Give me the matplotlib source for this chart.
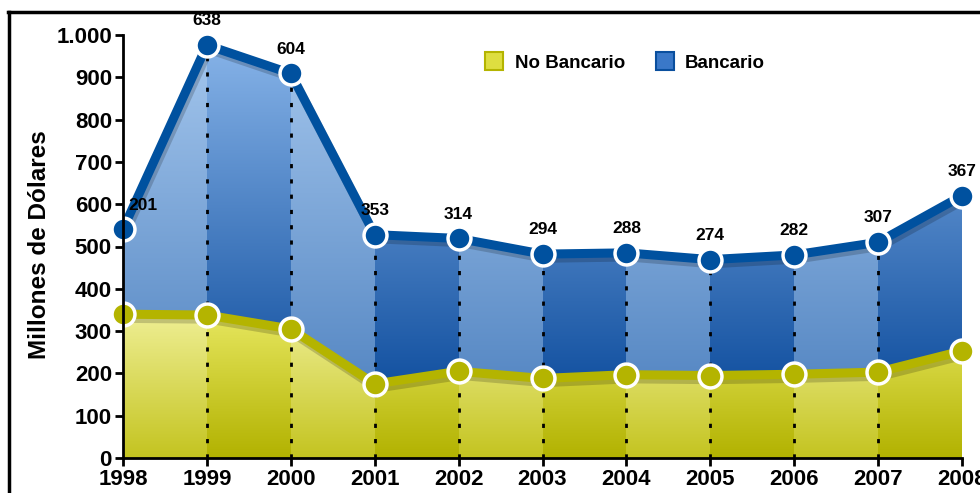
"""Stacked area chart: Millones de Dólares, Bancario vs No Bancario (1998-2008)."""
import matplotlib
matplotlib.use('Agg')
import matplotlib.pyplot as plt
import matplotlib.patheffects as pe
import numpy as np
from matplotlib.colors import to_rgb
from matplotlib.lines import Line2D
from matplotlib.patches import Polygon

plt.rcParams['font.family'] = ['Liberation Sans', 'DejaVu Sans']
plt.rcParams['font.weight'] = 'bold'

years = [1998, 1999, 2000, 2001, 2002, 2003, 2004, 2005, 2006, 2007, 2008]
no_bancario = [340, 338, 305, 175, 205, 188, 197, 195, 198, 203, 253]
bancario = [201, 638, 604, 353, 314, 294, 288, 274, 282, 307, 367]
yticks = [0, 100, 200, 300, 400, 500, 600, 700, 800, 900, 1000]
ytick_labels = ['0', '100', '200', '300', '400', '500', '600', '700', '800', '900', '1.000']

BLUE_LINE = '#00519f'
YELLOW_LINE = '#b4b400'


def gradient(bottom, top, n=256):
    """Vertical colour ramp from bottom to top (rows go upward with origin='lower')."""
    b = np.array(to_rgb(bottom))
    t = np.array(to_rgb(top))
    s = np.linspace(0, 1, n)[:, None]
    return (b + (t - b) * s)[:, None, :]


def main():
    x = np.array(years)
    low = np.array(no_bancario)
    total = low + np.array(bancario)

    fig = plt.figure(figsize=(9.8, 4.93), dpi=100)
    ax = fig.add_axes([123 / 980, 35 / 493, 839 / 980, 423 / 493])

    # Clip regions for the two stacked areas.
    low_poly = Polygon(list(zip(x, low)) + [(x[-1], 0), (x[0], 0)],
                       transform=ax.transData, facecolor='none', edgecolor='none')
    top_poly = Polygon(list(zip(x, total)) + list(zip(x[::-1], low[::-1])),
                       transform=ax.transData, facecolor='none', edgecolor='none')
    ax.add_patch(low_poly)
    ax.add_patch(top_poly)

    # Alternating light / dark bands with vertical gradients.
    yel_light = gradient('#c4c420', '#f6f6a8')
    yel_dark = gradient('#b2b200', '#f0f070')
    blue_light = gradient('#4f82c0', '#a6c8ee')
    blue_dark = gradient('#08489a', '#8ab6ea')
    for i in range(len(x) - 1):
        dark = i % 2 == 1
        im = ax.imshow(yel_dark if dark else yel_light, extent=[x[i], x[i + 1], 0, 400],
                       origin='lower', aspect='auto', zorder=1, interpolation='bilinear')
        im.set_clip_path(low_poly)
        im = ax.imshow(blue_dark if dark else blue_light, extent=[x[i], x[i + 1], 100, 1000],
                       origin='lower', aspect='auto', zorder=1, interpolation='bilinear')
        im.set_clip_path(top_poly)

    # Dotted guides from each inner point down to zero.
    ax.vlines(x[1:-1], 0, total[1:-1], colors='black', linestyles=(0, (1.5, 4)),
              lw=2, zorder=2)

    shadow = [pe.SimpleLineShadow(offset=(1.5, -3), shadow_color='black', alpha=0.18),
              pe.Normal()]
    ax.plot(x, low, color=YELLOW_LINE, lw=6.5, zorder=3, solid_capstyle='butt',
            path_effects=shadow, clip_on=False)
    ax.plot(x, total, color=BLUE_LINE, lw=6.5, zorder=3, solid_capstyle='butt',
            path_effects=shadow, clip_on=False)
    ax.plot(x, low, 'o', color=YELLOW_LINE, ms=16.5, mec='white', mew=2.5,
            zorder=4, clip_on=False)
    ax.plot(x, total, 'o', color=BLUE_LINE, ms=16.5, mec='white', mew=2.5,
            zorder=4, clip_on=False)

    # Value labels (Bancario amounts) above the top line.
    for i, (xi, yi, val) in enumerate(zip(x, total, bancario)):
        offset = (14, 17) if i == 0 else (0, 17.5)
        ax.annotate(str(val), (xi, yi), xytext=offset, textcoords='offset points',
                    ha='center', va='center', fontsize=12.5, fontweight='bold',
                    zorder=5, annotation_clip=False)

    ax.set_xlim(x[0], x[-1])
    ax.set_ylim(0, 1000)
    ax.set_xticks(x)
    ax.set_xticklabels([str(y) for y in years])
    ax.set_yticks(yticks)
    ax.set_yticklabels(ytick_labels)
    ax.tick_params(axis='both', direction='out', length=6, width=2,
                   labelsize=16, pad=2)
    for lab in ax.get_xticklabels() + ax.get_yticklabels():
        lab.set_fontweight('bold')
    for side in ('top', 'right'):
        ax.spines[side].set_visible(False)
    for side in ('left', 'bottom'):
        ax.spines[side].set_linewidth(2)
        ax.spines[side].set_zorder(6)

    fig.text(40 / 980, 1 - 245 / 493, 'Millones de Dólares', rotation=90,
             ha='center', va='center', fontsize=17.5, fontweight='bold')

    handles = [Line2D([], [], marker='s', ls='none', ms=13, mfc='#dede40', mec='#b4b400', mew=1.5),
               Line2D([], [], marker='s', ls='none', ms=13, mfc='#3a78c8', mec='#0a4f9e', mew=1.5)]
    fig.legend(handles, ['No Bancario', 'Bancario'], loc='center left',
               bbox_to_anchor=(468 / 980, 1 - 63 / 493), ncol=2, frameon=False,
               prop={'size': 13.5, 'weight': 'bold'}, handletextpad=0.6,
               columnspacing=1.6, handlelength=1.0)

    # Outer frame (only top and left edges are visible in the crop).
    fig.add_artist(Line2D([9 / 980, 9 / 980], [0, 1 - 12 / 493], transform=fig.transFigure,
                          color='black', lw=2.5))
    fig.add_artist(Line2D([8 / 980, 1], [1 - 12 / 493, 1 - 12 / 493], transform=fig.transFigure,
                          color='black', lw=2.5))

    fig.savefig('out.png', dpi=100)


if __name__ == '__main__':
    main()
